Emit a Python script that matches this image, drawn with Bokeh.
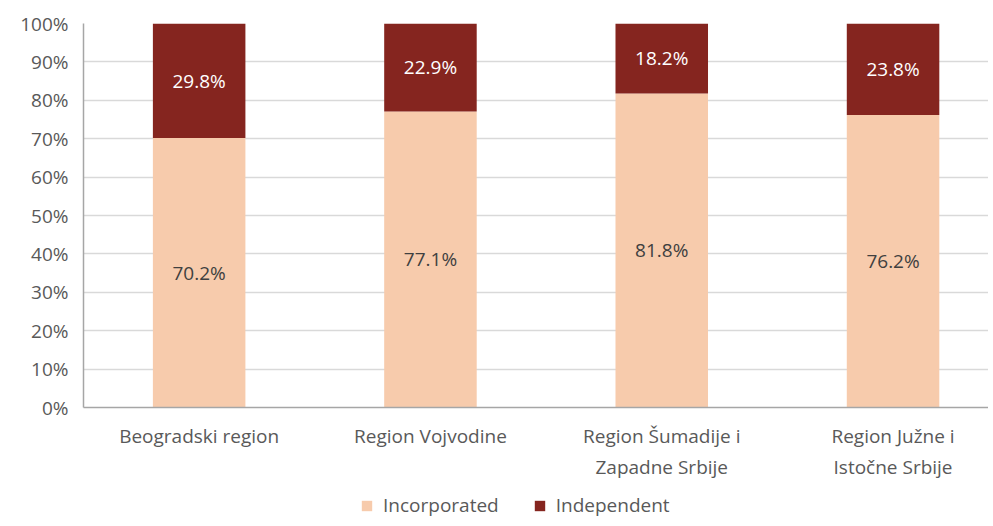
from bokeh.plotting import figure
from bokeh.layouts import column
from bokeh.models import (ColumnDataSource, FixedTicker, NumeralTickFormatter,
                          Legend, LegendItem, Range1d)
from bokeh.core.properties import value
from bokeh.embed import file_html
from bokeh.resources import INLINE

regions = ["Beogradski region", "Region Vojvodine", "Region Šumadije i\nZapadne Srbije",
           "Region Južne i\nIstočne Srbije"]
series = ["Incorporated", "Independent"]
incorporated = [70.2, 77.1, 81.8, 76.2]
independent = [29.8, 22.9, 18.2, 23.8]
y_ticks = [0, 10, 20, 30, 40, 50, 60, 70, 80, 90, 100]

FONT = "Open Sans"
GRAY = "#595959"
C_INC = "#F7CBAC"
C_IND = "#85251F"

xs = list(range(len(regions)))
src = ColumnDataSource(dict(
    x=xs,
    inc=[v / 100 for v in incorporated],
    ind=[v / 100 for v in independent],
    inc_y=[v / 200 for v in incorporated],
    ind_y=[(a + b / 2) / 100 for a, b in zip(incorporated, independent)],
    inc_lbl=[f"{v:.1f}%" for v in incorporated],
    ind_lbl=[f"{v:.1f}%" for v in independent],
))

left = 83
frame_w = 905
frame_h = 384
unit = 231.3

p = figure(frame_width=frame_w, frame_height=frame_h, output_backend="svg",
           toolbar_location=None,
           x_range=Range1d(-0.5, -0.5 + frame_w / unit), y_range=Range1d(0, 1),
           min_border_left=left, min_border_right=0, min_border_top=23,
           min_border_bottom=0)
p.outline_line_color = None
p.background_fill_color = "white"
p.border_fill_color = "white"

rs = p.vbar_stack(["inc", "ind"], x="x", width=0.4, source=src,
                  color=[C_INC, C_IND], line_color=None)

p.text(x="x", y="inc_y", text="inc_lbl", source=src, text_align="center",
       text_baseline="middle", text_font=value(FONT), text_font_size="19px",
       text_color="#404040")
p.text(x="x", y="ind_y", text="ind_lbl", source=src, text_align="center",
       text_baseline="middle", text_font=value(FONT), text_font_size="19px",
       text_color="white")

# axes
p.yaxis.ticker = FixedTicker(ticks=[t / 100 for t in y_ticks])
p.yaxis.formatter = NumeralTickFormatter(format="0%")
p.xaxis.ticker = FixedTicker(ticks=xs)
p.xaxis.major_label_overrides = {i: r for i, r in zip(xs, regions)}
for ax in (p.xaxis, p.yaxis):
    ax.major_tick_line_color = None
    ax.minor_tick_line_color = None
    ax.major_tick_out = 0
    ax.major_tick_in = 0
    ax.minor_tick_out = 0
    ax.minor_tick_in = 0
    ax.axis_line_color = "#A6A6A6"
    ax.axis_line_width = 1.5
    ax.major_label_text_font = FONT
    ax.major_label_text_font_size = "19px"
    ax.major_label_text_color = GRAY
p.yaxis.major_label_standoff = 15
p.xaxis.major_label_standoff = 15

p.xgrid.grid_line_color = None
p.ygrid.ticker = FixedTicker(ticks=[t / 100 for t in y_ticks])
p.ygrid.grid_line_color = "#D9D9D9"
p.ygrid.grid_line_width = 1.5

# legend in its own strip below the chart
LG_H = 44
lg = figure(width=left + frame_w, height=LG_H, output_backend="svg",
            toolbar_location=None, x_range=Range1d(0, 1), y_range=Range1d(0, 1),
            min_border=0)
lg.axis.visible = False
lg.grid.visible = False
lg.outline_line_color = None
hidden = ColumnDataSource(dict(x=[-10], top=[0]))
r_inc = lg.vbar(x="x", top="top", width=0.1, source=hidden, color=C_INC, line_color=None)
r_ind = lg.vbar(x="x", top="top", width=0.1, source=hidden, color=C_IND, line_color=None)
legend = Legend(items=[LegendItem(label=series[0], renderers=[r_inc]),
                       LegendItem(label=series[1], renderers=[r_ind])],
                orientation="horizontal", location=(277, 8),
                glyph_width=13, glyph_height=13, label_standoff=10, spacing=34,
                label_text_font=FONT, label_text_font_size="19px",
                label_text_color=GRAY, border_line_color=None,
                background_fill_alpha=0, margin=0, padding=0)
lg.add_layout(legend, "center")

layout = column(p, lg, spacing=0)
open("out.html", "w").write(file_html(layout, INLINE))
